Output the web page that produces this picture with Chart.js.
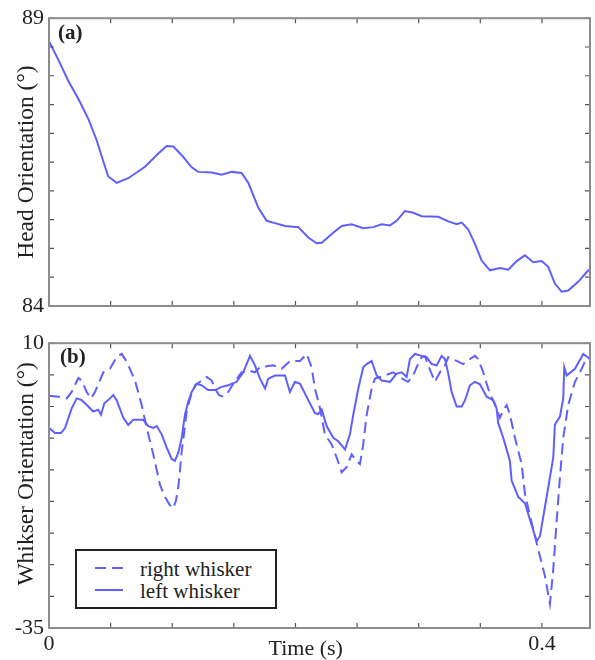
<!DOCTYPE html>
<html>
<head>
<meta charset="utf-8">
<script src="https://cdn.jsdelivr.net/npm/chart.js@4"></script>
<style>
html,body{margin:0;padding:0;background:#fff;overflow:hidden;}
#wrap{position:relative;width:595px;height:660px;font-family:'Liberation Serif','Times New Roman',serif;color:#222;}
.panel{position:absolute;left:0;width:595px;}
#pa{top:0;height:325px;}
#pb{top:325px;height:335px;}
.tag{position:absolute;font-weight:bold;font-size:21px;line-height:24px;white-space:nowrap;}
#legend{position:absolute;left:75px;top:549px;width:198px;height:56px;border:2px solid #222;background:#fff;}
.lrow{position:absolute;left:0;height:24px;width:198px;}
.lrow svg{position:absolute;left:18px;}
.lrow span{position:absolute;left:63px;top:0;font-size:21px;line-height:24px;white-space:nowrap;}
</style>
</head>
<body>
<div id="wrap">
  <div class="panel" id="pa"><canvas id="ca"></canvas></div>
  <div class="panel" id="pb"><canvas id="cb"></canvas></div>
  <div class="tag" style="left:58px;top:20px">(a)</div>
  <div class="tag" style="left:60px;top:344px">(b)</div>
  <div id="legend"></div>
</div>
<script>
// ---- data ----
const X_MAX = 0.439;
const xTickLabels = ['0', '0.4'];
const headYLabels = [84, 89];
const whiskYLabels = [-35, 10];
const seriesNames = ['right whisker', 'left whisker'];

const headTime = [
  0, 0.0075, 0.0157, 0.0238, 0.0319, 0.0387, 0.0441, 0.0481, 0.0549, 0.0643,
  0.0779, 0.0887, 0.0955, 0.1009, 0.1077, 0.1158, 0.1211, 0.1320, 0.1401, 0.1482,
  0.1563, 0.1617, 0.1698, 0.1766, 0.1834, 0.1915, 0.2023, 0.2104, 0.2172, 0.2213,
  0.2294, 0.2375, 0.2456, 0.2550, 0.2631, 0.2699, 0.2767, 0.2821, 0.2888, 0.2956,
  0.3024, 0.3159, 0.3240, 0.3308, 0.3349, 0.3402, 0.3456, 0.3511, 0.3578, 0.3659,
  0.3727, 0.3795, 0.3862, 0.3929, 0.3998, 0.4051, 0.4105, 0.4160, 0.4213, 0.4294,
  0.4363, 0.4389
];
const headAngle = [
  88.60, 88.28, 87.91, 87.60, 87.25, 86.88, 86.51, 86.25, 86.14, 86.22,
  86.42, 86.65, 86.78, 86.77, 86.62, 86.41, 86.33, 86.32, 86.28, 86.33,
  86.31, 86.14, 85.71, 85.48, 85.44, 85.39, 85.37, 85.19, 85.09, 85.10,
  85.25, 85.39, 85.42, 85.35, 85.37, 85.42, 85.40, 85.48, 85.65, 85.62,
  85.56, 85.55, 85.47, 85.42, 85.45, 85.33, 85.08, 84.79, 84.62, 84.66,
  84.63, 84.78, 84.88, 84.76, 84.78, 84.68, 84.39, 84.25, 84.27, 84.42,
  84.59, 84.64
];

const rightTime = [
  0, 0.0075, 0.0144, 0.0184, 0.0238, 0.0265, 0.0306, 0.0341, 0.0373, 0.0441,
  0.0495, 0.0549, 0.0590, 0.0630, 0.0698, 0.0752, 0.0793, 0.0846, 0.0901, 0.0941,
  0.0978, 0.1009, 0.1031, 0.1049, 0.1063, 0.1077, 0.1095, 0.1117, 0.1144, 0.1185,
  0.1225, 0.1280, 0.1320, 0.1347, 0.1379, 0.1414, 0.1455, 0.1495, 0.1563, 0.1617,
  0.1671, 0.1712, 0.1820, 0.1888, 0.1955, 0.2037, 0.2091, 0.2131, 0.2158, 0.2199,
  0.2239, 0.2294, 0.2334, 0.2375, 0.2415, 0.2456, 0.2491, 0.2523, 0.2550, 0.2578,
  0.2618, 0.2645, 0.2726, 0.2794, 0.2848, 0.2913, 0.2956, 0.2983, 0.3024, 0.3051,
  0.3077, 0.3132, 0.3172, 0.3213, 0.3240, 0.3308, 0.3361, 0.3416, 0.3456, 0.3481,
  0.3524, 0.3551, 0.3578, 0.3619, 0.3659, 0.3688, 0.3714, 0.3740, 0.3781, 0.3835,
  0.3862, 0.3917, 0.3970, 0.4024, 0.4065, 0.4092, 0.4120, 0.4146, 0.4173, 0.4213,
  0.4268, 0.4322, 0.4365
];
const rightAngle = [
  1.7, 1.55, 1.28, 2.3, 4.5, 4.1, 2.3, 1.28, 2.3, 5.4,
  5.95, 7.8, 8.3, 7.1, 4.1, 0.24, -3.4, -7.55, -12.4, -14.3,
  -15.5, -16.1, -14.8, -12.7, -10.1, -7.0, -4.4, -0.8, 1.28, 3.35,
  3.9, 4.66, 4.1, 2.84, 1.8, 1.55, 2.3, 3.6, 5.4, 5.7,
  5.4, 6.2, 6.5, 5.95, 7.2, 7.2, 8.3, 6.2, 2.84, -0.28,
  -4.4, -6.0, -8.06, -10.4, -9.6, -7.55, -8.5, -9.1, -6.0, -1.3,
  2.84, 4.4, 4.9, 5.4, 4.6, 3.9, 4.9, 6.2, 7.8, 7.9,
  6.5, 3.9, 5.4, 6.5, 7.8, 7.2, 6.7, 7.5, 8.0, 7.5,
  5.4, 3.6, 2.0, 0.3, -1.8, -0.5, 0.2, -1.3, -4.95, -9.1,
  -13.8, -18.4, -22.6, -26.75, -31.2, -25.7, -17.9, -11.2, -4.95, 0.2,
  3.9, 5.95, 7.8
];

const leftTime = [
  0, 0.0049, 0.0097, 0.0130, 0.0184, 0.0225, 0.0265, 0.0319, 0.0359, 0.0400,
  0.0422, 0.0449, 0.0495, 0.0522, 0.0549, 0.0603, 0.0643, 0.0684, 0.0765, 0.0806,
  0.0846, 0.0874, 0.0914, 0.0955, 0.0996, 0.1022, 0.1049, 0.1077, 0.1103, 0.1130,
  0.1158, 0.1198, 0.1239, 0.1292, 0.1347, 0.1401, 0.1455, 0.1523, 0.1576, 0.1631,
  0.1671, 0.1712, 0.1753, 0.1779, 0.1834, 0.1915, 0.1955, 0.1996, 0.2037, 0.2104,
  0.2158, 0.2185, 0.2213, 0.2253, 0.2307, 0.2347, 0.2402, 0.2442, 0.2469, 0.2510,
  0.2550, 0.2578, 0.2618, 0.2659, 0.2699, 0.2767, 0.2821, 0.2862, 0.2902, 0.2929,
  0.2970, 0.3024, 0.3065, 0.3105, 0.3146, 0.3186, 0.3213, 0.3240, 0.3267, 0.3308,
  0.3349, 0.3376, 0.3416, 0.3456, 0.3497, 0.3551, 0.3605, 0.3632, 0.3645, 0.3686,
  0.3740, 0.3754, 0.3808, 0.3862, 0.3903, 0.3957, 0.3984, 0.4038, 0.4092, 0.4105,
  0.4146, 0.4173, 0.4181, 0.4201, 0.4268, 0.4335, 0.4389
];
const leftAngle = [
  -3.4, -4.2, -4.2, -3.4, -0.3, 1.28, 1.0, 0.0, -0.8, -0.5,
  -1.3, 0.5, 1.28, 1.8, 1.0, -1.8, -2.9, -2.1, -2.1, -3.1,
  -3.4, -3.1, -4.4, -6.5, -8.3, -8.6, -7.3, -4.95, -1.3, 0.77,
  2.3, 3.6, 3.35, 2.6, 2.6, 3.1, 3.35, 3.9, 5.4, 8.0,
  6.5, 4.4, 2.84, 4.4, 4.9, 4.9, 2.3, 3.9, 3.6, 1.0,
  -1.05, -1.2, -0.5, -3.1, -4.95, -5.5, -6.8, -4.4, -1.3, 2.84,
  6.2, 6.7, 7.2, 4.9, 4.1, 3.9, 5.2, 5.4, 4.66, 7.5,
  8.3, 8.0, 7.8, 6.7, 6.5, 8.0, 7.5, 5.2, 2.3, 0.0,
  0.0, 1.0, 3.35, 3.9, 3.5, 1.55, 1.0, -0.3, -2.6, -4.95,
  -8.6, -11.7, -14.3, -15.3, -17.9, -21.3, -20.5, -14.3, -8.06, -2.9,
  -1.6, 1.3, 6.2, 4.9, 5.95, 8.3, 7.5
];

// ---- styling ----
const LINE = 'rgb(95,95,255)';
const DASH = [11, 6];
const SERIF = "'Liberation Serif','Times New Roman',serif";
Chart.defaults.font.family = SERIF;
Chart.defaults.color = '#222';

const toXY = (ts, vs) => ts.map((t, i) => ({x: t, y: vs[i]}));

// frame + inward tick marks, positioned through the scales
const frameTicks = {
  id: 'frameTicks',
  afterDraw(chart) {
    const {ctx, chartArea: a, scales} = chart;
    const L = 5;
    ctx.save();
    ctx.strokeStyle = '#555';
    ctx.lineWidth = 1.2;
    ctx.beginPath();
    scales.x.ticks.forEach(t => {
      const p = scales.x.getPixelForValue(t.value);
      ctx.moveTo(p, a.top); ctx.lineTo(p, a.top + L);
      ctx.moveTo(p, a.bottom); ctx.lineTo(p, a.bottom - L);
    });
    scales.y.ticks.forEach(t => {
      const p = scales.y.getPixelForValue(t.value);
      ctx.moveTo(a.left, p); ctx.lineTo(a.left + L, p);
      ctx.moveTo(a.right, p); ctx.lineTo(a.right - L, p);
    });
    ctx.stroke();
    ctx.strokeStyle = '#8c8c8c';
    ctx.lineWidth = 2;
    ctx.strokeRect(a.left, a.top, a.right - a.left, a.bottom - a.top);
    ctx.restore();
  }
};

function makeChart(canvasId, datasets, cfg) {
  return new Chart(document.getElementById(canvasId), {
    type: 'line',
    data: {datasets},
    options: {
      responsive: true,
      maintainAspectRatio: false,
      animation: false,
      layout: {padding: {top: cfg.padTop, right: 5, left: 0, bottom: 0}},
      plugins: {legend: {display: false}, tooltip: {enabled: false}},
      elements: {point: {radius: 0}, line: {tension: 0}},
      scales: {
        x: {
          type: 'linear', min: 0, max: X_MAX,
          grid: {display: false, drawTicks: false},
          border: {display: false},
          ticks: {
            stepSize: 0.05, includeBounds: false, autoSkip: false,
            maxRotation: 0, minRotation: 0, padding: 3,
            font: {size: 22},
            callback: cfg.xLabel
          },
          title: cfg.xTitle,
          afterFit: s => { s.height = cfg.xHeight; }
        },
        y: {
          min: cfg.yMin, max: cfg.yMax,
          grid: {display: false, drawTicks: false},
          border: {display: false},
          ticks: {
            stepSize: cfg.yStep, autoSkip: false, padding: 5,
            font: {size: 22},
            callback: v => cfg.yLabels.some(l => Math.abs(l - v) < 1e-9) ? String(v) : ''
          },
          title: {
            display: true, text: cfg.yTitle, color: '#222',
            font: {size: 23.5, lineHeight: 1},
            padding: {top: 15, bottom: 0}
          },
          afterFit: s => { s.width = 49; }
        }
      }
    },
    plugins: [frameTicks]
  });
}

makeChart('ca', [{
  label: 'Head Orientation',
  data: toXY(headTime, headAngle),
  borderColor: LINE, borderWidth: 2, fill: false
}], {
  padTop: 15, xHeight: 19,
  yMin: 84, yMax: 89, yStep: 0.5, yLabels: headYLabels,
  yTitle: 'Head Orientation (°)',
  xLabel: () => '',
  xTitle: {display: false}
});

makeChart('cb', [{
  label: seriesNames[0],
  data: toXY(rightTime, rightAngle),
  borderColor: LINE, borderWidth: 2, borderDash: DASH, fill: false
}, {
  label: seriesNames[1],
  data: toXY(leftTime, leftAngle),
  borderColor: LINE, borderWidth: 2, fill: false
}], {
  padTop: 14, xHeight: 32,
  yMin: -35, yMax: 10, yStep: 5, yLabels: whiskYLabels,
  yTitle: '    Whikser Orientation (°)',
  xLabel: v => {
    if (Math.abs(v) < 1e-9) return xTickLabels[0];
    if (Math.abs(v - 0.4) < 1e-9) return xTickLabels[1];
    return '';
  },
  xTitle: {
    display: true, text: 'Time (s)     ', color: '#222',
    font: {size: 22, lineHeight: 1},
    padding: {top: 0, bottom: 0}
  }
});

// ---- legend (HTML, built from the series names) ----
const legend = document.getElementById('legend');
const rowTops = [6, 28];
const lineY = [17, 39];
seriesNames.forEach((name, i) => {
  const row = document.createElement('div');
  row.className = 'lrow';
  row.style.top = '0px';
  row.style.height = '56px';
  const dash = i === 0 ? `stroke-dasharray="${DASH.join(' ')}"` : '';
  row.innerHTML =
    `<svg width="30" height="6" style="top:${lineY[i] - 3}px"><line x1="0" y1="3" x2="28" y2="3" stroke="${LINE}" stroke-width="2" ${dash}/></svg>` +
    `<span style="top:${rowTops[i]}px">${name}</span>`;
  legend.appendChild(row);
});
</script>
</body>
</html>
